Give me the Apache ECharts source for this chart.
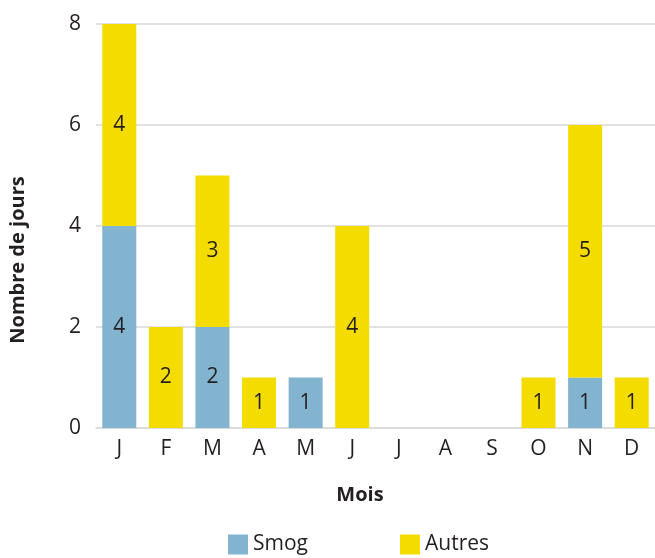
<!DOCTYPE html>
<html>
<head>
    <meta charset="utf-8">
    <title>Nombre de jours</title>
    <script src="https://cdn.jsdelivr.net/npm/echarts@6/dist/echarts.min.js"></script>
    <style>
        body { margin: 0; }
        #main { width: 655px; height: 558px; }
    </style>
</head>
<body>
    <div id="main"></div>
    <script type="text/javascript">
        var mois = ['J', 'F', 'M', 'A', 'M', 'J', 'J', 'A', 'S', 'O', 'N', 'D'];
        // null = pas de barre / pas d'étiquette
        var smog   = [4, null, 2, null, 1, null, null, null, null, null, 1, null];
        var autres = [4, 2, 3, 1, null, 4, null, null, null, 1, 5, 1];
        var yTicks = [0, 2, 4, 6, 8];

        var police = 'Open Sans';
        var myChart = echarts.init(document.getElementById('main'));

        var etiquette = {
            show: true,
            position: 'inside',
            color: '#231f20',
            fontSize: 21,
            fontFamily: police
        };

        var option = {
            animation: false,
            grid: { left: 96, right: 0, top: 24, bottom: 130 },
            legend: {
                top: 534,
                left: 228,
                padding: 0,
                itemWidth: 20,
                itemHeight: 20,
                itemGap: 92,
                icon: 'rect',
                textStyle: { fontSize: 21, color: '#231f20', fontFamily: police }
            },
            xAxis: {
                type: 'category',
                data: mois,
                axisTick: { show: false },
                axisLine: { lineStyle: { color: '#d9d9d9', width: 1.5 } },
                axisLabel: { fontSize: 21, color: '#231f20', fontFamily: police, margin: 11 }
            },
            yAxis: {
                type: 'value',
                min: yTicks[0],
                max: yTicks[yTicks.length - 1],
                interval: 2,
                axisLine: { show: false },
                axisTick: { show: false },
                splitLine: { lineStyle: { color: '#d9d9d9', width: 1.5 } },
                axisLabel: { fontSize: 21, color: '#231f20', fontFamily: police, margin: 15 }
            },
            graphic: [
                {
                    type: 'text',
                    x: 18, y: 260,
                    rotation: Math.PI / 2,
                    style: {
                        text: 'Nombre de jours',
                        fontSize: 20, fontWeight: 'bold', fontFamily: police,
                        fill: '#231f20', align: 'center', verticalAlign: 'middle'
                    }
                },
                {
                    type: 'text',
                    x: 360, y: 495,
                    style: {
                        text: 'Mois',
                        fontSize: 20, fontWeight: 'bold', fontFamily: police,
                        fill: '#231f20', align: 'center', verticalAlign: 'middle'
                    }
                }
            ],
            series: [
                {
                    name: 'Smog',
                    type: 'bar',
                    stack: 'total',
                    barWidth: '73%',
                    data: smog,
                    itemStyle: { color: '#82b3cf' },
                    label: etiquette
                },
                {
                    name: 'Autres',
                    type: 'bar',
                    stack: 'total',
                    barWidth: '73%',
                    data: autres,
                    itemStyle: { color: '#f5dc00' },
                    label: etiquette
                }
            ]
        };
        myChart.setOption(option);
    </script>
</body>
</html>
